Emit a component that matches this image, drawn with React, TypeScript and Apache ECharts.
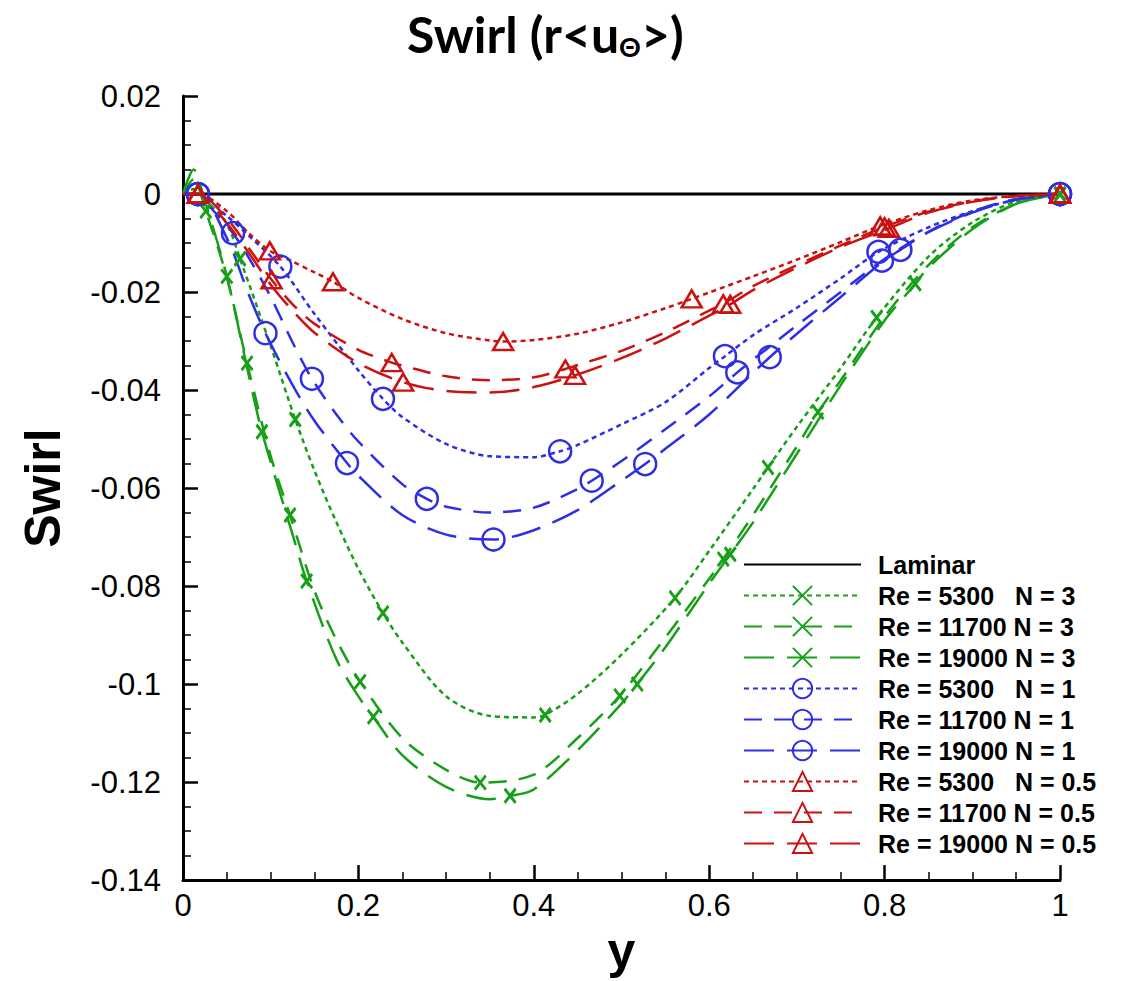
import React, { useEffect, useRef } from "react";
import * as echarts from "echarts";

type P = [number, number];

const GREEN = "#17a017";
const BLUE = "#2e2ee6";
const RED = "#cc1111";

const X_MIN = 0;
const X_MAX = 1;
const X_INTERVAL = 0.2;
const Y_MIN = -0.14;
const Y_MAX = 0.02;
const Y_INTERVAL = 0.02;

const legendNames = [
  "Laminar",
  "Re = 5300   N = 3",
  "Re = 11700 N = 3",
  "Re = 19000 N = 3",
  "Re = 5300   N = 1",
  "Re = 11700 N = 1",
  "Re = 19000 N = 1",
  "Re = 5300   N = 0.5",
  "Re = 11700 N = 0.5",
  "Re = 19000 N = 0.5",
];

const laminar: P[] = [[0, 0], [1, 0]];

// ---- Green, N = 3 ----
const g5300: P[] = [
  [0, 0], [0.012, 0.001], [0.03, -0.002], [0.05, -0.006], [0.075, -0.0175], [0.1, -0.031],
  [0.125, -0.0445], [0.15, -0.0565], [0.175, -0.067], [0.2, -0.0765], [0.25, -0.0915],
  [0.3, -0.1025], [0.35, -0.1065], [0.4, -0.1068], [0.45, -0.102], [0.5, -0.094],
  [0.55, -0.0848], [0.6, -0.0728], [0.65, -0.0602], [0.7, -0.0475], [0.75, -0.0355],
  [0.8, -0.0232], [0.85, -0.0128], [0.9, -0.0058], [0.95, -0.0015], [1, 0],
];
const g5300Marks: P[] = [
  [0.065, -0.0132], [0.128, -0.046], [0.228, -0.0855], [0.413, -0.1063],
  [0.561, -0.0824], [0.667, -0.0558], [0.791, -0.0252], [1, 0],
];
const g11700: P[] = [
  [0, 0], [0.012, 0.003], [0.025, -0.003], [0.05, -0.017], [0.075, -0.036], [0.1, -0.0535],
  [0.125, -0.067], [0.15, -0.081], [0.175, -0.091], [0.2, -0.099], [0.25, -0.111],
  [0.3, -0.1175], [0.35, -0.1205], [0.4, -0.1185], [0.45, -0.111], [0.5, -0.102],
  [0.55, -0.0905], [0.6, -0.0785], [0.65, -0.0655], [0.7, -0.0515], [0.75, -0.038],
  [0.8, -0.025], [0.85, -0.0145], [0.9, -0.0068], [0.95, -0.002], [1, 0],
];
const g11700Marks: P[] = [
  [0.026, -0.0035], [0.073, -0.0345], [0.122, -0.0655], [0.202, -0.0995], [0.339, -0.1201],
  [0.498, -0.1024], [0.616, -0.0745], [0.724, -0.0445], [1, 0],
];
const g19000: P[] = [
  [0, 0], [0.012, 0.005], [0.025, -0.0015], [0.05, -0.0165], [0.075, -0.037], [0.1, -0.0555],
  [0.125, -0.0695], [0.15, -0.084], [0.175, -0.095], [0.2, -0.1025], [0.25, -0.1145],
  [0.3, -0.121], [0.35, -0.1235], [0.4, -0.1215], [0.45, -0.1135], [0.5, -0.104],
  [0.55, -0.0925], [0.6, -0.0795], [0.65, -0.067], [0.7, -0.053], [0.75, -0.039],
  [0.8, -0.0258], [0.85, -0.015], [0.9, -0.0072], [0.95, -0.002], [1, 0],
];
const g19000Marks: P[] = [
  [0.05, -0.0168], [0.09, -0.0485], [0.141, -0.079], [0.217, -0.1067], [0.373, -0.1228],
  [0.518, -0.1], [0.624, -0.0735], [0.835, -0.0183], [1, 0],
];

// ---- Blue, N = 1 ----
const b5300: P[] = [
  [0, 0], [0.017, 0], [0.05, -0.0045], [0.075, -0.0085], [0.1, -0.0128], [0.15, -0.0245],
  [0.2, -0.036], [0.25, -0.0455], [0.3, -0.051], [0.35, -0.0535], [0.4, -0.0537],
  [0.45, -0.0512], [0.5, -0.047], [0.55, -0.0425], [0.6, -0.0355], [0.65, -0.0288],
  [0.7, -0.0232], [0.75, -0.0172], [0.8, -0.0112], [0.85, -0.0068], [0.9, -0.0035],
  [0.95, -0.0012], [1, 0],
];
const b5300Marks: P[] = [
  [0.017, 0], [0.111, -0.0148], [0.228, -0.0418], [0.43, -0.0525], [0.618, -0.0331],
  [0.793, -0.0118], [1, 0],
];
const b11700: P[] = [
  [0, 0], [0.017, 0], [0.03, -0.0025], [0.08, -0.0145], [0.1, -0.021], [0.125, -0.0303],
  [0.175, -0.045], [0.2, -0.0505], [0.25, -0.0592], [0.3, -0.0638], [0.35, -0.065],
  [0.4, -0.064], [0.45, -0.0602], [0.5, -0.0545], [0.55, -0.048], [0.6, -0.0413],
  [0.65, -0.0338], [0.7, -0.0268], [0.75, -0.02], [0.8, -0.0133], [0.85, -0.0077],
  [0.9, -0.0036], [0.95, -0.001], [1, 0],
];
const b11700Marks: P[] = [
  [0.017, 0], [0.057, -0.008], [0.147, -0.0377], [0.278, -0.0622], [0.466, -0.0585],
  [0.632, -0.0364], [0.797, -0.0136], [1, 0],
];
const b19000: P[] = [
  [0, 0], [0.017, 0], [0.05, -0.009], [0.075, -0.0205], [0.125, -0.039], [0.15, -0.0463],
  [0.2, -0.0575], [0.25, -0.0655], [0.3, -0.0695], [0.35, -0.0705], [0.4, -0.0686],
  [0.45, -0.0645], [0.5, -0.0585], [0.55, -0.052], [0.6, -0.045], [0.65, -0.0365],
  [0.7, -0.0285], [0.75, -0.021], [0.8, -0.0135], [0.85, -0.0078], [0.9, -0.0038],
  [0.95, -0.0011], [1, 0],
];
const b19000Marks: P[] = [
  [0.017, 0], [0.094, -0.0284], [0.187, -0.0549], [0.354, -0.0705], [0.527, -0.0551],
  [0.669, -0.0333], [0.818, -0.0114], [1, 0],
];

// ---- Red, N = 0.5 ----
const r5300: P[] = [
  [0, 0], [0.017, 0], [0.05, -0.0035], [0.075, -0.008], [0.125, -0.0138], [0.15, -0.016],
  [0.2, -0.0212], [0.25, -0.0255], [0.3, -0.0284], [0.35, -0.0299], [0.4, -0.0298],
  [0.45, -0.0285], [0.5, -0.0262], [0.55, -0.0233], [0.6, -0.0201], [0.65, -0.0168],
  [0.7, -0.0134], [0.75, -0.0098], [0.8, -0.0062], [0.85, -0.0033], [0.9, -0.0013],
  [0.95, -0.0004], [1, 0],
];
const r5300Marks: P[] = [
  [0.017, 0], [0.099, -0.0116], [0.171, -0.0179], [0.365, -0.0301], [0.58, -0.0214],
  [0.795, -0.0065], [1, 0],
];
const r11700: P[] = [
  [0, 0], [0.017, 0], [0.05, -0.005], [0.075, -0.011], [0.125, -0.0225], [0.15, -0.0265],
  [0.2, -0.0318], [0.25, -0.035], [0.3, -0.0372], [0.35, -0.038], [0.4, -0.0374],
  [0.45, -0.0349], [0.5, -0.032], [0.55, -0.0282], [0.6, -0.0238], [0.65, -0.0188],
  [0.7, -0.0145], [0.75, -0.0105], [0.8, -0.0067], [0.85, -0.0036], [0.9, -0.0015],
  [0.95, -0.0004], [1, 0],
];
const r11700Marks: P[] = [
  [0.017, 0], [0.101, -0.0175], [0.238, -0.0344], [0.436, -0.0357], [0.616, -0.0224],
  [0.8, -0.0067], [1, 0],
];
const r19000: P[] = [
  [0, 0], [0.017, 0], [0.05, -0.006], [0.075, -0.012], [0.1, -0.0185], [0.125, -0.0238],
  [0.15, -0.0283], [0.2, -0.0345], [0.3, -0.0402], [0.35, -0.0405], [0.4, -0.0394],
  [0.5, -0.0335], [0.55, -0.0295], [0.6, -0.0248], [0.65, -0.0196], [0.7, -0.015],
  [0.75, -0.0108], [0.85, -0.0038], [0.9, -0.0016], [0.95, -0.0004], [1, 0],
];
const r19000Marks: P[] = [
  [0.017, 0], [0.251, -0.0384], [0.447, -0.037], [0.624, -0.0225], [0.805, -0.007], [1, 0],
];

const DOT = [5, 4];
const DASH = [18, 12];
const LONG = [30, 13];

const X_SYMBOL = "path://M0,0L10,12M10,0L0,12";

function buildData(curve: P[], marks: P[]) {
  const plain = curve
    .filter(([x]) => !marks.some(([mx]) => Math.abs(mx - x) < 0.012))
    .map((p) => ({ value: p, symbol: "none" }));
  const withMarks = marks.map((p) => ({ value: p }));
  return [...plain, ...withMarks].sort((a, b) => a.value[0] - b.value[0]);
}

function makeSeries(
  name: string,
  color: string,
  dash: number[],
  kind: "x" | "circle" | "triangle",
  curve: P[],
  marks: P[]
) {
  const symbol = kind === "x" ? X_SYMBOL : kind;
  const symbolSize = kind === "x" ? [11, 14] : kind === "circle" ? 22 : [20, 17];
  return {
    name,
    type: "line",
    data: buildData(curve, marks),
    smooth: 0.3,
    symbol,
    symbolSize,
    showSymbol: true,
    lineStyle: { color, width: 2.5, type: dash },
    itemStyle: {
      color: kind === "x" ? color : "rgba(0,0,0,0)",
      borderColor: color,
      borderWidth: kind === "x" ? 3 : 2.5,
    },
    emphasis: { disabled: true },
  };
}

const fmt = (v: number, d: number) => String(parseFloat(v.toFixed(d)));

export default function App() {
  const ref = useRef<HTMLDivElement>(null);
  useEffect(() => {
    if (!ref.current) return;
    const chart = echarts.init(ref.current, undefined, { renderer: "svg" });
    const series: any[] = [
      {
        name: legendNames[0],
        type: "line",
        data: laminar,
        symbol: "circle",
        showSymbol: false,
        lineStyle: { color: "#000", width: 3, type: "solid" },
        itemStyle: { color: "rgba(0,0,0,0)", borderWidth: 0 },
        emphasis: { disabled: true },
      },
      makeSeries(legendNames[1], GREEN, DOT, "x", g5300, g5300Marks),
      makeSeries(legendNames[2], GREEN, DASH, "x", g11700, g11700Marks),
      makeSeries(legendNames[3], GREEN, LONG, "x", g19000, g19000Marks),
      makeSeries(legendNames[4], BLUE, DOT, "circle", b5300, b5300Marks),
      makeSeries(legendNames[5], BLUE, DASH, "circle", b11700, b11700Marks),
      makeSeries(legendNames[6], BLUE, LONG, "circle", b19000, b19000Marks),
      makeSeries(legendNames[7], RED, DOT, "triangle", r5300, r5300Marks),
      makeSeries(legendNames[8], RED, DASH, "triangle", r11700, r11700Marks),
      makeSeries(legendNames[9], RED, LONG, "triangle", r19000, r19000Marks),
    ];
    chart.setOption({
      animation: false,
      backgroundColor: "#fff",
      title: {
        text: "Swirl (r<u{sub|Θ}>)",
        left: 402,
        top: 2,
        textStyle: {
          fontFamily: "Lato",
          fontWeight: "bold",
          fontSize: 50,
          color: "#000",
          rich: {
            sub: {
              fontFamily: "Lato",
              fontWeight: "bold",
              fontSize: 27,
              color: "#000",
              padding: [26, 0, 0, 0],
            },
          },
        },
      },
      legend: {
        orient: "vertical",
        left: 738,
        top: 547,
        itemWidth: 117,
        itemHeight: 24,
        itemGap: 6,
        data: legendNames,
        selectedMode: false,
        textStyle: {
          fontFamily: "Liberation Sans",
          fontWeight: "bold",
          fontSize: 25,
          color: "#000",
          padding: [0, 0, 0, 12],
        },
      },
      grid: { left: 183, right: 68, top: 96, bottom: 88, containLabel: false },
      xAxis: {
        type: "value",
        min: X_MIN,
        max: X_MAX,
        interval: X_INTERVAL,
        name: "y",
        nameLocation: "middle",
        nameGap: 32,
        nameTextStyle: {
          fontFamily: "Liberation Sans",
          fontWeight: "bold",
          fontSize: 50,
          color: "#000",
        },
        axisLine: { show: true, onZero: false, lineStyle: { color: "#000", width: 3 } },
        axisTick: { show: true, inside: true, length: 15, lineStyle: { color: "#000", width: 2.5 } },
        minorTick: { show: true, splitNumber: 4, length: 8, lineStyle: { color: "#000", width: 1.5 } },
        splitLine: { show: false },
        axisLabel: {
          fontFamily: "Liberation Sans",
          fontSize: 31,
          color: "#000",
          margin: 10,
          formatter: (v: number) => fmt(v, 1),
        },
      },
      yAxis: {
        type: "value",
        min: Y_MIN,
        max: Y_MAX,
        interval: Y_INTERVAL,
        name: "Swirl",
        nameLocation: "middle",
        nameGap: 115,
        nameTextStyle: {
          fontFamily: "Liberation Sans",
          fontWeight: "bold",
          fontSize: 50,
          color: "#000",
        },
        axisLine: { show: true, onZero: false, lineStyle: { color: "#000", width: 3 } },
        axisTick: { show: true, inside: true, length: 15, lineStyle: { color: "#000", width: 2.5 } },
        minorTick: { show: true, splitNumber: 4, length: 8, lineStyle: { color: "#000", width: 1.5 } },
        splitLine: { show: false },
        axisLabel: {
          fontFamily: "Liberation Sans",
          fontSize: 31,
          color: "#000",
          margin: 22,
          formatter: (v: number) => fmt(v, 2),
        },
      },
      series,
    });
    return () => chart.dispose();
  }, []);
  return (
    <div
      ref={ref}
      style={{ position: "fixed", left: 0, top: 0, width: 1128, height: 981, background: "#fff" }}
    />
  );
}
